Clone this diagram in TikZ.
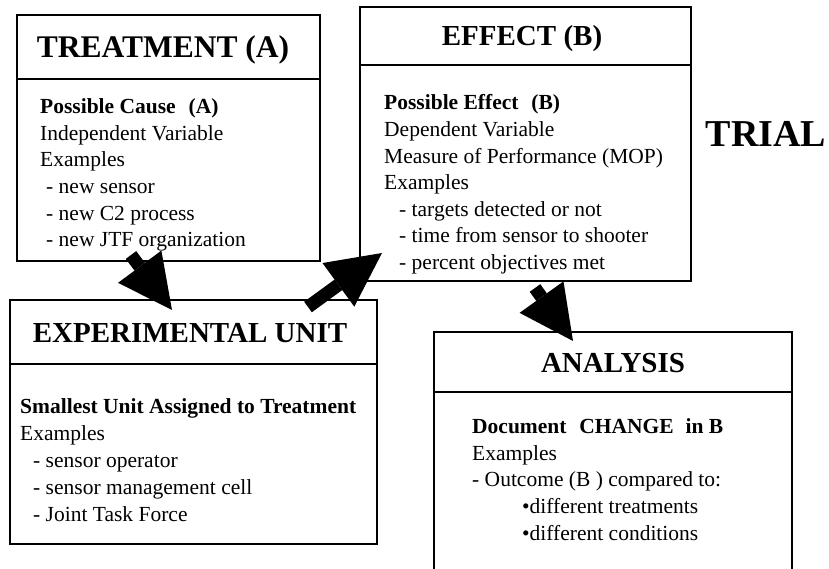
\documentclass[tikz,border=0pt]{standalone}
\usepackage{fontspec}
\setmainfont{Liberation Serif}
\usetikzlibrary{arrows.meta,calc}

\tikzset{
  box/.style={draw, line width=1.6pt, inner sep=0pt, outer sep=0pt, anchor=north west},
  rule/.style={line width=1.6pt},
  title/.style={font=\fontsize{29}{34}\selectfont\bfseries, anchor=base, inner sep=0pt},
  body/.style={font=\fontsize{21.5}{26.6}\selectfont, anchor=north west, align=left, inner sep=0pt},
  fat/.style={line width=13pt, -{Triangle[length=54pt,width=54pt,line width=0pt]}}
}

\begin{document}
\begin{tikzpicture}[x=1pt,y=-1pt]
  \clip (0,0) rectangle (829,569);
  \fill[white] (0,0) rectangle (829,569);

  % boxes
  \node[box, minimum width=303pt, minimum height=246pt] (treat) at (17,15) {};
  \node[box, minimum width=331pt, minimum height=274pt] (effect) at (360,7) {};
  \node[box, minimum width=367pt, minimum height=244pt] (unit) at (10,300) {};
  \node[box, minimum width=358pt, minimum height=260pt] (anal) at (434,332) {};

  % header dividers
  \draw[rule] ($(treat.north west)+(0,64)$) -- ($(treat.north east)+(0,64)$);
  \draw[rule] ($(effect.north west)+(0,58)$) -- ($(effect.north east)+(0,58)$);
  \draw[rule] ($(unit.north west)+(0,64)$) -- ($(unit.north east)+(0,64)$);
  \draw[rule] ($(anal.north west)+(0,60)$) -- ($(anal.north east)+(0,60)$);

  % headings
  \node[title, font=\fontsize{31.5}{36}\selectfont\bfseries] (treatT) at (163,57.5) {TREATMENT (A)};
  \node[title] (effectT) at (522,46) {EFFECT (B)};
  \node[title] (unitT) at (190,342) {EXPERIMENTAL UNIT};
  \node[title] (analT) at (613,372) {ANALYSIS};

  % contents
  \node[body] (treatB) at (40,98.5) {%
    \textbf{Possible Cause\hspace{0.35em} (A)}\\
    Independent Variable\\
    Examples\\
    \hspace*{6pt}- new sensor\\
    \hspace*{6pt}- new C2 process\\
    \hspace*{6pt}- new JTF organization};

  \node[body] (effectB) at (384,94.5) {%
    \textbf{Possible Effect\hspace{0.35em} (B)}\\
    Dependent Variable\\
    Measure of Performance (MOP)\\
    Examples\\
    \hspace*{15pt}- targets detected or not\\
    \hspace*{15pt}- time from sensor to shooter\\
    \hspace*{15pt}- percent objectives met};

  \node[body, font=\fontsize{21.5}{27}\selectfont] (unitB) at (20,398.5) {%
    \textbf{Smallest Unit Assigned to Treatment}\\
    Examples\\
    \hspace*{13pt}- sensor operator\\
    \hspace*{13pt}- sensor management cell\\
    \hspace*{13pt}- Joint Task Force};

  \node[body] (analB) at (472,418.5) {%
    \textbf{Document\hspace{0.35em} CHANGE\hspace{0.3em} in B}\\
    Examples\\
    - Outcome (B ) compared to:\\
    \hspace*{50pt}•different treatments\\
    \hspace*{50pt}•different conditions};

  \node[font=\fontsize{38}{40}\selectfont\bfseries, anchor=base, inner sep=0pt] (trial) at (766,147) {TRIAL};

  % flow arrows
  \draw[fat] ($(treat.south west)+(114,-6)$) -- ($(unit.north west)+(162,10)$);
  \draw[fat] ($(unit.north west)+(298,7)$) -- ($(effect.south west)+(22,-28)$);
  \draw[fat] ($(effect.south west)+(175,7)$) -- ($(anal.north west)+(139,9)$);
\end{tikzpicture}
\end{document}
